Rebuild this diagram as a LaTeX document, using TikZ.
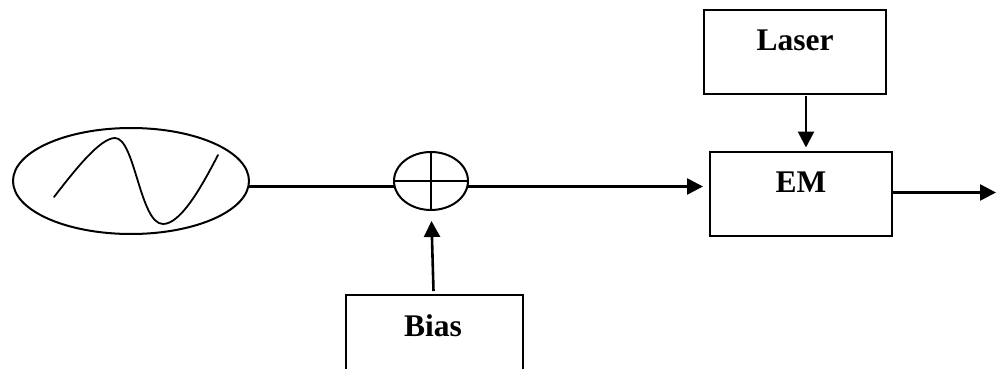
\documentclass[tikz,border=0pt]{standalone}
\usepackage{fontspec}
\setmainfont{Liberation Serif}
\usetikzlibrary{arrows.meta,calc,shapes.geometric}
\tikzset{
  px/.style={x=1pt,y=-1pt},
  boxshape/.style={draw=black,line width=2pt,rectangle,minimum width=182.5pt,minimum height=84pt,inner sep=0pt},
  oval/.style={draw=black,line width=2pt,ellipse,inner sep=0pt},
  lbl/.style={font=\fontsize{31.5}{31.5}\selectfont\bfseries,anchor=base,inner sep=0pt},
  conn/.style={line width=2.6pt,-{Triangle[length=16pt,width=16pt]}},
  plain/.style={line width=2.6pt},
  thin line/.style={line width=1.7pt}
}
\begin{document}
\begin{tikzpicture}[px]
\useasboundingbox (0,0) rectangle (997,369);
\clip (0,0) rectangle (997,369);
% boxes
\node[boxshape] (laser) at (794.75,52) {};
\node[boxshape] (em) at (800.75,194) {};
\node[boxshape,minimum width=177pt,minimum height=120pt] (bias) at (434,355) {};
% ovals
\node[oval,minimum width=236pt,minimum height=106pt] (src) at (131,181) {};
\node[oval,minimum width=74pt,minimum height=58pt] (sum) at (431,181) {};
\draw[thin line] (sum.west) -- (sum.east);
\draw[thin line] (sum.north) -- (sum.south);
% sine wave
\draw[line width=1.8pt,line cap=round] (54,197)
  .. controls (75,170) and (100,138) .. (115,138)
  .. controls (135,138) and (140,224) .. (163,224)
  .. controls (180,224) and (200,190) .. (218,155);
% labels
\node[lbl] (laserlbl) at (795,51) {Laser};
\node[lbl] (emlbl) at (801,192.5) {EM};
\node[lbl] (biaslbl) at (433,336) {Bias};
% connector ends
\coordinate (srcout) at (248,186.5);
\coordinate (sumin) at (395,186.5);
\coordinate (sumout) at (467,186.5);
\coordinate (emin) at (703,186.5);
\coordinate (biasout) at (433.5,291);
\coordinate (sumbelow) at (431.5,221);
\coordinate (laserout) at (806,96);
\coordinate (emtop) at (806,147.5);
\coordinate (emout) at (em.east |- 0,192.5);
\coordinate (outend) at (996,192.5);
% connectors
\draw[plain] (srcout) -- (sumin);
\draw[conn] (sumout) -- (emin);
\draw[conn] (biasout) -- (sumbelow);
\draw[conn] (laserout) -- (emtop);
\draw[conn] (emout) -- (outend);
\end{tikzpicture}
\end{document}
